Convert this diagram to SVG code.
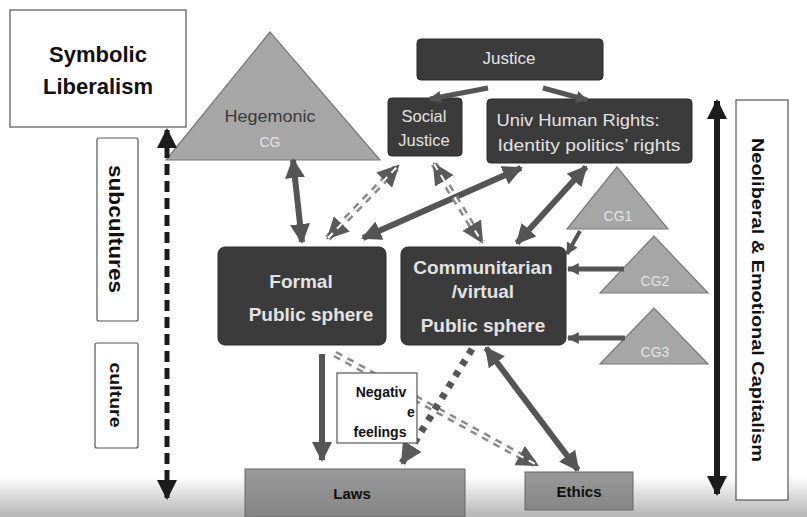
<svg xmlns="http://www.w3.org/2000/svg" width="807" height="517" viewBox="0 0 807 517">
<defs>
<style>
.dark{fill:#3b3b3b;stroke:#2a2a2a;stroke-width:1}
.tri{fill:#a6a6a6;stroke:#7a7a7a;stroke-width:1.2}
.wbox{fill:#fff;stroke:#555;stroke-width:1.2}
.lt{font-family:"Liberation Sans",Arial,sans-serif;fill:#e2e2e2;text-anchor:middle}
.bk{font-family:"Liberation Sans",Arial,sans-serif;fill:#111;font-weight:bold;text-anchor:middle}
.sol{stroke:#555;stroke-width:6;fill:none}
.dbl{stroke:#8a8a8a;stroke-width:7;fill:none;stroke-dasharray:7 6}
.dblw{stroke:#fff;stroke-width:2;fill:none;stroke-dasharray:7 6}
</style>
<marker id="ah" viewBox="0 0 20 20" refX="18" refY="10" markerWidth="20" markerHeight="20" markerUnits="userSpaceOnUse" orient="auto-start-reverse"><path d="M0,0 L20,10 L0,20 z" fill="#555"/></marker>
<marker id="ahd" viewBox="0 0 20 20" refX="18" refY="10" markerWidth="22" markerHeight="22" markerUnits="userSpaceOnUse" orient="auto-start-reverse"><path d="M0,0 L20,10 L0,20 z" fill="#5a5a5a"/></marker>
<marker id="ahb" viewBox="0 0 20 20" refX="18" refY="10" markerWidth="20" markerHeight="20" markerUnits="userSpaceOnUse" orient="auto-start-reverse"><path d="M0,0 L20,10 L0,20 z" fill="#1c1c1c"/></marker>
<marker id="ahs" viewBox="0 0 20 20" refX="18" refY="10" markerWidth="12" markerHeight="12" markerUnits="userSpaceOnUse" orient="auto-start-reverse"><path d="M0,0 L20,10 L0,20 z" fill="#555"/></marker>
<linearGradient id="band" x1="0" y1="0" x2="0" y2="1"><stop offset="0" stop-color="#fff"/><stop offset="1" stop-color="#b5b5b5"/></linearGradient>
<linearGradient id="gbox" x1="0" y1="0" x2="0" y2="1"><stop offset="0" stop-color="#9a9a9a"/><stop offset="1" stop-color="#858585"/></linearGradient>
</defs>
<rect x="0" y="0" width="807" height="517" fill="#fff"/>
<rect x="0" y="476" width="807" height="41" fill="url(#band)"/>

<g id="symbolic-liberalism">
<rect class="wbox" x="10" y="10" width="176" height="117"/>
<text class="bk" x="98" y="62" font-size="22">Symbolic</text>
<text class="bk" x="98" y="94" font-size="22">Liberalism</text>
</g>
<g id="subcultures">
<rect class="wbox" x="97" y="138" width="41" height="183" rx="2"/>
<text class="bk" font-size="20" transform="translate(109,229) rotate(90)" textLength="128" lengthAdjust="spacingAndGlyphs">subcultures</text>
</g>
<g id="culture">
<rect class="wbox" x="95" y="343" width="43" height="105" rx="2"/>
<text class="bk" font-size="16" transform="translate(110,395) rotate(90)" textLength="65" lengthAdjust="spacingAndGlyphs">culture</text>
</g>
<g id="neoliberal">
<rect class="wbox" x="736" y="100" width="52" height="400"/>
<text class="bk" font-size="17" transform="translate(752,300) rotate(90)" textLength="324" lengthAdjust="spacingAndGlyphs">Neoliberal &amp; Emotional Capitalism</text>
</g>
<g id="hegemonic-cg">
<polygon class="tri" points="270,32 166,160 380,160"/>
<text x="270" y="122" font-size="17" font-family="Liberation Sans,Arial,sans-serif" fill="#3a3a3a" text-anchor="middle" textLength="91" lengthAdjust="spacingAndGlyphs">Hegemonic</text>
<text class="lt" x="270" y="147" font-size="14" fill="#d8d8d8">CG</text>
</g>
<g id="justice">
<rect class="dark" x="417" y="39" width="186" height="41" rx="4"/>
<text class="lt" x="509" y="64" font-size="17">Justice</text>
</g>
<g id="social-justice">
<rect class="dark" x="388" y="98" width="74" height="58" rx="4"/>
<text class="lt" x="424" y="122" font-size="16.5">Social</text>
<text class="lt" x="424" y="146" font-size="16.5">Justice</text>
</g>
<g id="univ-human-rights">
<rect class="dark" x="487" y="99" width="205" height="64" rx="4"/>
<text class="lt" x="578" y="126" font-size="17" textLength="163" lengthAdjust="spacingAndGlyphs">Univ Human Rights:</text>
<text class="lt" x="589" y="151" font-size="17" textLength="183" lengthAdjust="spacingAndGlyphs">Identity politics’ rights</text>
</g>
<g id="cg1">
<polygon class="tri" points="617,167 567,229 668,229"/>
<text class="lt" x="618" y="221" font-size="14">CG1</text>
</g>
<g id="cg2">
<polygon class="tri" points="654,236 600,293 708,293"/>
<text class="lt" x="655" y="286" font-size="14">CG2</text>
</g>
<g id="cg3">
<polygon class="tri" points="654,308 600,364 708,364"/>
<text class="lt" x="655" y="357" font-size="14">CG3</text>
</g>
<g id="formal-public-sphere">
<rect class="dark" x="218" y="247" width="168" height="98" rx="7"/>
<text class="lt" x="301" y="288" font-size="19" font-weight="bold">Formal</text>
<text class="lt" x="311" y="321" font-size="19" font-weight="bold">Public sphere</text>
</g>
<g id="communitarian-public-sphere">
<rect class="dark" x="401" y="247" width="165" height="98" rx="7"/>
<text class="lt" x="483" y="274" font-size="19" font-weight="bold">Communitarian</text>
<text class="lt" x="483" y="298" font-size="19" font-weight="bold">/virtual</text>
<text class="lt" x="483" y="332" font-size="19" font-weight="bold">Public sphere</text>
</g>
<g id="laws">
<rect x="245" y="469" width="220" height="48" fill="url(#gbox)" stroke="#666" stroke-width="1"/>
<text class="bk" x="352" y="499" font-size="15">Laws</text>
</g>
<g id="ethics">
<rect x="525" y="472" width="108" height="38" fill="url(#gbox)" stroke="#666" stroke-width="1"/>
<text class="bk" x="579" y="497" font-size="15">Ethics</text>
</g>

<g id="connectors">
<line x1="167" y1="498" x2="167" y2="130" stroke="#1c1c1c" stroke-width="5" stroke-dasharray="11 6" marker-start="url(#ahb)" marker-end="url(#ahb)"/>
<line x1="717" y1="494" x2="717" y2="101" stroke="#1c1c1c" stroke-width="6" marker-start="url(#ahb)" marker-end="url(#ahb)"/>
<line x1="488" y1="88" x2="430" y2="99" stroke="#555" stroke-width="5" marker-end="url(#ahs)"/>
<line x1="543" y1="88" x2="587" y2="100" stroke="#555" stroke-width="5" marker-end="url(#ahs)"/>
<line class="sol" x1="293" y1="160" x2="302" y2="242" marker-start="url(#ah)" marker-end="url(#ah)"/>
<line class="sol" x1="363" y1="238" x2="521" y2="168" marker-start="url(#ah)" marker-end="url(#ah)"/>
<line class="sol" x1="517" y1="243" x2="586" y2="167" marker-start="url(#ah)" marker-end="url(#ah)"/>
<g>
<line class="dbl" x1="328" y1="238" x2="398" y2="166" marker-start="url(#ahd)" marker-end="url(#ahd)"/>
<line class="dblw" x1="328" y1="238" x2="398" y2="166"/>
<line class="dbl" x1="434" y1="164" x2="482" y2="242" marker-start="url(#ahd)" marker-end="url(#ahd)"/>
<line class="dblw" x1="434" y1="164" x2="482" y2="242"/>
<line class="dbl" x1="335" y1="354" x2="537" y2="465" marker-end="url(#ahd)"/>
<line class="dblw" x1="335" y1="354" x2="537" y2="465"/>
</g>
<line x1="580" y1="231" x2="567" y2="254" stroke="#555" stroke-width="4" marker-end="url(#ahs)"/>
<line x1="624" y1="269" x2="568" y2="269" stroke="#555" stroke-width="5" marker-end="url(#ahs)"/>
<line x1="625" y1="338" x2="568" y2="338" stroke="#555" stroke-width="5" marker-end="url(#ahs)"/>
<line class="sol" x1="322" y1="354" x2="322" y2="460" marker-end="url(#ah)"/>
<line x1="472" y1="349" x2="402" y2="463" stroke="#555" stroke-width="7" stroke-dasharray="6 7" marker-end="url(#ahd)"/>
<line class="sol" x1="486" y1="348" x2="578" y2="470" marker-start="url(#ah)" marker-end="url(#ah)"/>
</g>

<g id="negative-feelings">
<rect class="wbox" x="337" y="373" width="80" height="70"/>
<text class="bk" x="381" y="397" font-size="14">Negativ</text>
<text class="bk" x="411" y="417" font-size="14">e</text>
<text class="bk" x="380" y="437" font-size="14">feelings</text>
</g>
</svg>
